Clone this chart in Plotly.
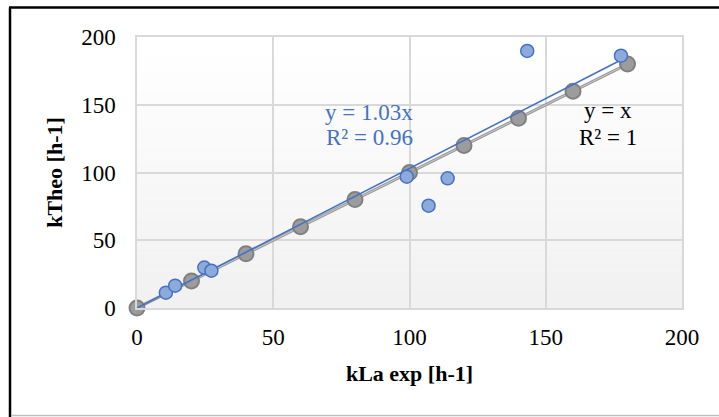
import numpy as np
import plotly.graph_objects as go

# Data
exp_x = [10.6, 14.0, 24.7, 27.3, 99.0, 107.0, 114.0, 143.2, 177.6]
exp_y = [11.3, 16.5, 29.8, 27.5, 96.9, 75.5, 95.7, 189.7, 186.2]
ref_x = [0, 20, 40, 60, 80, 100, 120, 140, 160, 180]
ref_y = [0, 20, 40, 60, 80, 100, 120, 140, 160, 180]
ticks = [0, 50, 100, 150, 200]
x_title = "kLa exp [h-1]"
y_title = "kTheo [h-1]"

ex = np.array(exp_x); ey = np.array(exp_y)
slope = float((ex * ey).sum() / (ex * ex).sum())
ss_res = ((ey - slope * ex) ** 2).sum()
ss_tot = (ey ** 2).sum()
r2 = 1 - ss_res / ss_tot

W, H = 719, 417
L, R, T, B = 137, 37, 37, 109
pw, ph = W - L - R, H - T - B

def px_x(p):
    return (p - L) / pw

def px_y(p):
    return (H - B - p) / ph

fig = go.Figure()

fig.add_trace(go.Scatter(x=[0, max(ref_x)], y=[0, max(ref_y)], mode="lines",
                         line=dict(color="#9a9a9a", width=3), showlegend=False, hoverinfo="skip"))
fig.add_trace(go.Scatter(x=[0, max(ref_x)], y=[0, max(ref_y)], mode="lines",
                         line=dict(color="#c8c8c8", width=1), showlegend=False, hoverinfo="skip"))
fig.add_trace(go.Scatter(x=ref_x, y=ref_y, mode="markers", cliponaxis=False,
                         marker=dict(size=15, color="#9c9c9c", line=dict(color="#808080", width=2)),
                         showlegend=False))
fig.add_trace(go.Scatter(x=[0, ex.max()], y=[0, slope * ex.max()], mode="lines",
                         line=dict(color="#4472c4", width=1.6), showlegend=False, hoverinfo="skip"))
fig.add_trace(go.Scatter(x=exp_x, y=exp_y, mode="markers", cliponaxis=False,
                         marker=dict(size=13, color="#8eaadb", line=dict(color="#4472c4", width=1.5)),
                         showlegend=False))

font_main = "Liberation Serif"
fs = 23

fig.add_annotation(x=85.2, y=144.6, xref="x", yref="y", showarrow=False,
                   text=f"y = {slope:.2f}x",
                   font=dict(family=font_main, size=fs, color="#4472c4"))
fig.add_annotation(x=85.2, y=125.5, xref="x", yref="y", showarrow=False,
                   text=f"R² = {r2:.2f}",
                   font=dict(family=font_main, size=fs, color="#4472c4"))
fig.add_annotation(x=173, y=146, xref="x", yref="y", showarrow=False,
                   text="y = x",
                   font=dict(family=font_main, size=fs, color="#000000"))
fig.add_annotation(x=173, y=126.2, xref="x", yref="y", showarrow=False,
                   text="R² = 1",
                   font=dict(family=font_main, size=fs, color="#000000"))

shapes = []
# gradient plot background
n = 30
for i in range(n):
    t = i / (n - 1)
    c = int(round(255 - 14 * (1 - t)))
    shapes.append(dict(type="rect", xref="paper", yref="paper", x0=0, x1=1,
                       y0=i / n, y1=(i + 1) / n, layer="below", line=dict(width=0),
                       fillcolor=f"rgb({c},{c},{c})"))
# outer border
shapes.append(dict(type="line", xref="paper", yref="paper", x0=px_x(10), x1=px_x(10),
                   y0=px_y(7.5), y1=px_y(420), line=dict(color="black", width=2.5)))
shapes.append(dict(type="line", xref="paper", yref="paper", x0=px_x(9), x1=px_x(725),
                   y0=px_y(7.5), y1=px_y(7.5), line=dict(color="black", width=2.5)))
shapes.append(dict(type="line", xref="paper", yref="paper", x0=px_x(11), x1=px_x(725),
                   y0=px_y(415.5), y1=px_y(415.5), line=dict(color="#c0c0c0", width=1.5)))
fig.update_layout(shapes=shapes)

axis_common = dict(range=[0, 200], tickvals=ticks, showgrid=True, gridcolor="#d9d9d9",
                   gridwidth=1.5, zeroline=False, showline=True, linecolor="#d9d9d9",
                   linewidth=1.5, ticks="", mirror=True,
                   tickfont=dict(family=font_main, size=fs, color="#000000"))

fig.update_xaxes(**axis_common, ticklabelstandoff=8,
                 title=dict(text=f"<b>{x_title}</b>", standoff=16,
                            font=dict(family=font_main, size=22, color="#000000")))
fig.update_yaxes(**axis_common, ticklabelstandoff=15,
                 title=dict(text=f"<b>{y_title}</b>", standoff=12,
                            font=dict(family=font_main, size=22, color="#000000")))

fig.update_layout(width=W, height=H, margin=dict(l=L, r=R, t=T, b=B, autoexpand=False),
                  paper_bgcolor="white", plot_bgcolor="white",
                  font=dict(family=font_main))

fig.write_html("out.html", config={"displayModeBar": False},
               post_script="document.body.style.margin='0';document.body.style.overflow='hidden';")
